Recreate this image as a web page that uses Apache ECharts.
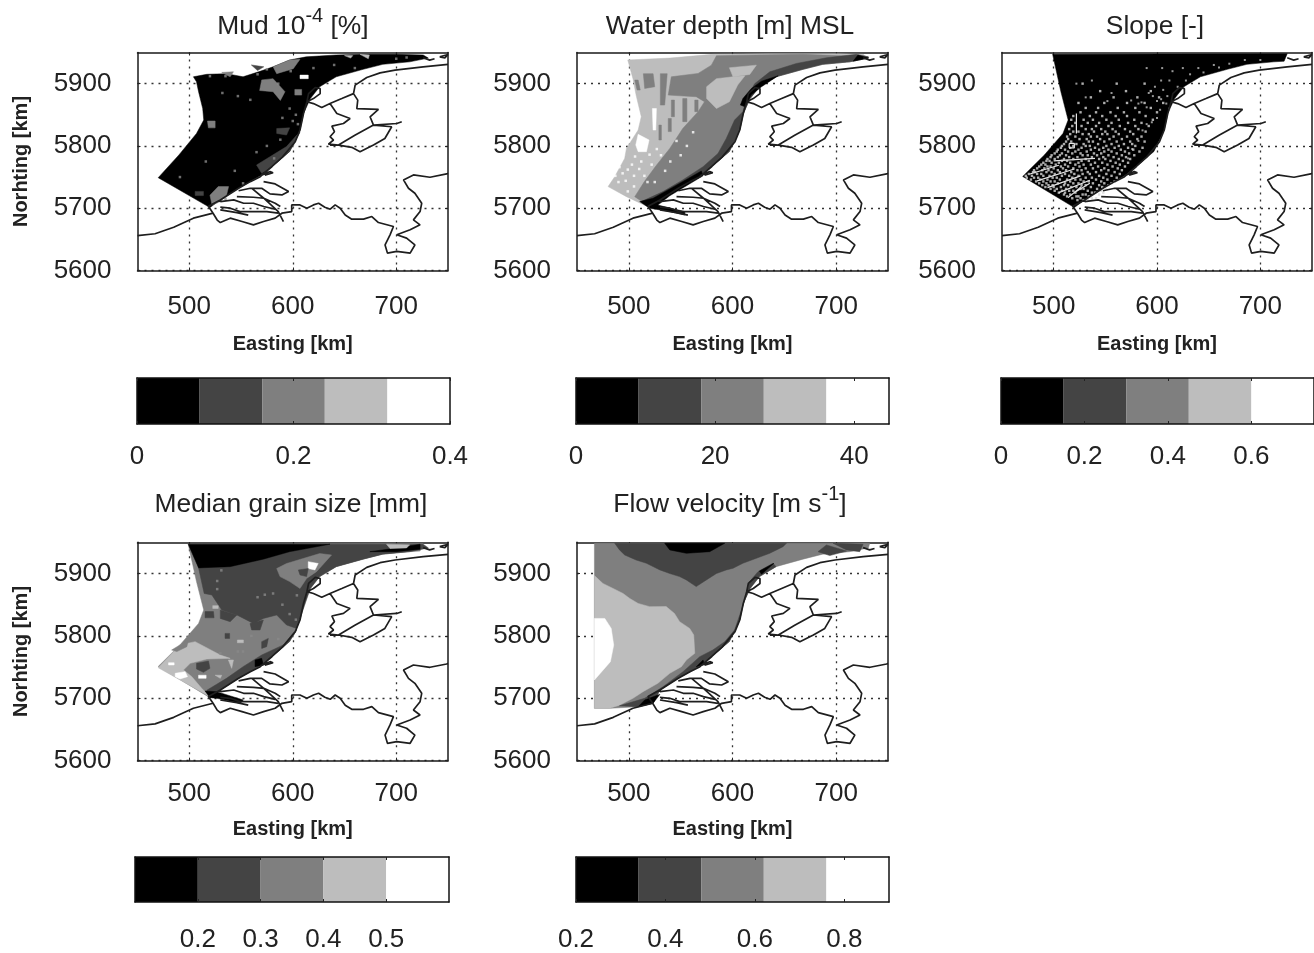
<!DOCTYPE html>
<html><head><meta charset="utf-8">
<style>html,body{margin:0;padding:0;background:#fff}#c{width:1314px;height:953px}</style>
<script src="https://cdn.jsdelivr.net/npm/echarts@6/dist/echarts.min.js"></script>
</head><body><div id="c"></div>
<script>
const greys=['#000000','#444444','#7f7f7f','#bdbdbd','#ffffff'];
const xTicks=[500,600,700];
const yTicks=[5600,5700,5800,5900];
const mudBins=[0,0.08,0.16,0.24,0.32,0.4], mudTicks=[0,0.2,0.4];
const depthBins=[0,9,18,27,36,45], depthTicks=[0,20,40];
const slopeBins=[0,0.15,0.3,0.45,0.6,0.75], slopeTicks=[0,0.2,0.4,0.6];
const grainBins=[0.1,0.2,0.3,0.4,0.5,0.6], grainTicks=[0.2,0.3,0.4,0.5];
const velBins=[0.2,0.34,0.48,0.62,0.76,0.9], velTicks=[0.2,0.4,0.6,0.8];

// shoreline, north-east to south-west (km)
const seaEdge=[[731,5941],[713,5935],[687,5931],[668,5923],[642,5911],[626,5895],[617,5876],[610.4,5852],[607,5825.5],[597,5791],[580,5767],[568.6,5752],[547.7,5732],[530,5713.3],[520,5701]];
const rev=a=>a.slice().reverse();

// outlines drawn on each map (km)
const borderLine=[[450,5656],[467,5659],[485,5669.5],[504,5684],[523,5692],[527,5681],[530,5677],[539.6,5684],[551,5678.6],[562,5673.3],[571.8,5678.6],[583,5684],[589.5,5692],[599,5694.6],[599,5705.3],[607,5705.3],[613.6,5700],[620,5705.3],[625,5708],[631,5701.6],[636.2,5698.4],[641,5705.3],[645.8,5700],[650.7,5689],[657,5682.4],[668.4,5682.4],[676.4,5686.6],[682.8,5677],[697.3,5670.6],[694,5657.3],[689.2,5641],[691.5,5627.9],[700.5,5630.6],[713.4,5627.9],[718,5641],[710,5652],[700.5,5657.3],[713.4,5665.3],[723,5673.3],[716.6,5681.3],[723,5694.6],[724.6,5708],[718,5724],[711.8,5732],[707,5745.4],[716.6,5753.4],[732.6,5749.7],[748.7,5755],[750,5756]];
const coastLine=[[523,5692],[518.5,5703],[530,5713.3],[547.7,5732],[559,5742.7],[568.6,5750.7],[580,5767],[590,5782],[602.4,5806.8],[607,5825.5],[610.4,5852],[613.7,5870.9],[615.3,5884],[621.7,5893.8],[626.5,5892],[626.5,5884],[620,5876],[613.7,5870.9],[620,5868],[628,5861.8],[636,5868],[647.4,5876],[658.7,5884],[660.3,5897.6],[671.5,5909.8],[684.4,5917.3],[698.8,5921.6],[726,5927],[750,5930.8]];
const lakeLine=[[636,5868],[642.6,5852],[655.4,5844],[649,5836],[637.8,5831.9],[640.3,5822.8],[636,5814.8],[639.4,5809.5],[634.5,5803],[644.2,5801.4],[657,5797.7],[665,5790.8],[678,5801.4],[689,5812],[695.6,5830.8],[678,5833.5],[674.7,5846.8],[682.8,5858.6],[661.9,5860],[662.8,5873.5],[658.7,5884]];
const polderLine=[[636,5801.4],[644.2,5801.4],[660,5817],[678,5833.5],[700.5,5836],[705.3,5838.8]];
const islandA=[[726,5941.5],[732.3,5937.8],[737,5940]];
const islandB=[[742,5943],[750,5946.8],[747,5941.5],[742,5943]];
const delta1=[[571.8,5742.7],[583,5739],[596,5726.7],[589.5,5721.3],[578,5723],[570,5732],[559,5732],[547.7,5728]];
const delta2=[[546,5718.7],[562,5717.6],[572,5716],[583,5708],[588,5702.7]];
const delta3=[[560.5,5732],[572,5716],[586,5694.6],[591,5678.6]];
const delta4=[[530,5710.7],[543,5713.3],[552.5,5708],[562,5708],[572,5702.7],[583,5698.4]];
const delta5=[[530,5701.6],[539.6,5700],[549,5694.6],[562,5694.6],[575,5694.6],[586,5692]];
const delta6=[[530,5697.3],[546,5693],[557,5689]];
const delta7=[[568.6,5752],[578,5758.7],[581,5757],[573,5753]];
const allLines=[borderLine,coastLine,lakeLine,polderLine,islandA,islandB,delta1,delta2,delta3,delta4,delta5,delta6,delta7];

// Mud
const mudOutline=[[470,5749],[490,5785.5],[507,5820],[514,5841.6],[513,5860],[509,5887],[507,5903],[504,5911],[517,5915],[536,5916],[552,5911],[567,5919],[581,5927],[597,5938],[613,5943],[642,5946],[668,5947],[700,5947],[726,5946]];
const mudZones=[
 [0,[...mudOutline,...seaEdge]],
 [1,[[565,5769.4],[594,5799],[604,5817.5],[607,5822],[597,5791],[580,5767],[570,5756]]],
 [2,[[581,5927],[597,5938],[607,5939],[600.5,5924],[584.5,5916]]],
 [2,[[570,5906],[581,5908],[592.5,5887],[588,5873],[581,5887],[568,5889]]],
 [2,[[520,5721],[528,5734.7],[538,5734.7],[536,5721],[530,5710.6],[522,5705]]],
 [2,[[517.6,5840],[525,5840],[525,5829],[518.5,5829]]],
 [4,[[607,5913.7],[615,5913.7],[615,5908],[607,5908]]],
 [2,[[602,5890.7],[608.6,5890.7],[608.6,5881.6],[602,5881.6]]],
 [2,[[531.4,5918],[542.7,5919],[539.5,5911]]],
 [1,[[505.7,5727],[513.7,5727],[513.7,5720.3],[505.7,5720.3]]],
 [1,[[584.5,5828],[597,5829],[594,5817.5],[584.5,5820]]],
 [3,[[665,5947],[674,5946],[673,5940]]],
 [3,[[650,5945],[658,5945],[656,5941]]],
 [1,[[560,5930],[572,5927],[566,5921]]]
];
const mudSpecks=[[586,5900],[559,5874],[547,5880],[532,5885],[597,5860],[603,5850],[590,5845],[588,5810],[575,5800],[565,5790],[582,5780],[516,5775],[491,5750],[544,5760],[552,5740],[535,5715],[600,5840],[605,5835],[598,5920],[620,5925],[640,5930],[660,5925],[700,5940],[710,5942],[535,5912],[520,5912],[566,5915],[575,5923]];

// Water depth
const depthZones=[
 [3,[[499,5938],[539.5,5941],[581,5947],[636,5948],[700,5948],[726,5947],...seaEdge,[497.7,5718.6],[480,5734.7],[486.4,5750.7],[496,5780],[497.7,5796],[509,5825.5],[512,5847],[507,5881.6],[504,5908]]],
 [2,[[731,5943],[668,5947],[623,5946],[584.5,5944.7],[579.6,5929.7],[566.8,5916.4],[541,5911],[538,5881.6],[565,5879],[573,5871],[566.8,5855],[552,5828],[539.5,5796],[526.6,5769],[515,5742.7],[505.7,5718.6],[520,5702.6],...rev(seaEdge)]],
 [3,[[575,5895],[584.5,5908],[600.5,5911],[612,5912.6],[605,5897.7],[597,5871],[584.5,5860],[575,5876]]],
 [3,[[597,5925.5],[623,5929.7],[616.6,5914.8],[600.5,5911]]],
 [2,[[514,5916],[523.4,5916],[525,5895],[515.3,5892.3]]],
 [2,[[530.4,5916],[537,5916],[534.6,5865.6],[530.4,5865.6]]],
 [2,[[505.7,5905.7],[509,5905.7],[511,5889.7],[508,5889.7]]],
 [2,[[541,5873.6],[544,5873.6],[544,5847],[541,5847]]],
 [2,[[552,5876],[556,5876],[556,5839],[552,5839]]],
 [2,[[563.6,5873.6],[566.8,5873.6],[566.8,5855],[563.6,5855]]],
 [2,[[538,5844],[541,5844],[541,5823],[538,5823]]],
 [2,[[529,5833.5],[531.4,5833.5],[531.4,5809.5],[529,5809.5]]],
 [4,[[522.7,5860],[526.6,5860],[526,5825.5],[523.4,5825.5]]],
 [4,[[509,5818.6],[519.5,5809.5],[517,5790.8],[509,5790.8],[506.7,5801.5]]],
 [1,[[731,5943],[719.5,5947],[690.6,5941.5],[661.6,5932.4],[636,5919],[621.4,5900],[613.4,5876],[610,5855],[602,5841.6],[594,5812],[586,5788],[571.6,5766.7],[552,5745.4],[533,5726.7],[512,5710.6],...rev(seaEdge)]],
 [0,[[731,5941],[721,5945.8],[716.3,5936]]],
 [0,[[644,5912.6],[628,5904],[618,5892],[610,5876],[607.6,5865.6],[612,5863],[618,5881.6],[628,5895]]],
 [0,[[510.5,5710.6],[523.4,5716],[539.5,5731],[570,5759.8],[571.6,5752],[539.5,5720],[528,5705],[554,5694.6],[554,5689],[536,5695.7],[520,5700]]]
];
const depthSpecks=[[476,5755],[480,5748],[484,5760],[487,5752],[491,5766],[494,5756],[497,5744],[499,5762],[490,5742],[503,5770],[506,5783],[505,5752],[510,5763],[512,5775],[515,5752],[520,5786],[522,5770],[527,5795],[531,5785],[535,5760],[540,5775],[546,5808],[550,5785],[556,5800],[562,5822],[518,5742],[525,5742],[505,5735],[499,5727],[480,5762],[474,5750],[470,5757]];

// Slope
const slopeOutline=[[470,5751],[491,5785.5],[509,5820],[514,5841.6],[507,5887],[499,5947],[726,5948],[723,5936]];
const slopeZones=[[0,[...slopeOutline,...seaEdge.slice(1)]]];
const slopeSpecks=[[537,5905],[522,5900],[531,5878],[552,5872],[556,5885],[575,5873],[582,5868],[590,5862],[596,5880],[600,5872],[603,5858],[606,5890],[609,5868],[600,5845],[595,5838],[590,5925],[605,5925],[615,5920],[625,5925],[640,5925],[655,5930],[670,5932],[685,5938],[700,5938],[612,5905],[620,5895],[632,5915],[572,5780],[576,5795],[582,5808],[586,5825],[590,5835],[604,5905],[610,5880],[612,5860],[604,5875],[598,5895],[592,5885],[585,5870],[660,5926],[645,5918],[628,5905]];
const slopeRows=[
 [5713,523,529,533],[5716,518,526,537,541],[5719,513,522,524,534],[5722,510,516,528,531,544],
 [5725,505,511,521,537,540,548],[5728,501,508,515,519,533,546],[5731,497,503,512,526,529,542,551],
 [5734,492,500,507,517,522,536,547],[5737,489,495,499,510,514,527,531,544,553],[5740,486,493,504,511,519,524,538,549,556],
 [5743,483,490,497,501,516,529,534,546,559],[5746,478,487,494,506,513,521,526,541,552],[5749,474,481,485,499,503,518,531,537,548,561],
 [5752,473,479,490,496,508,515,524,544,556],[5755,476,484,488,501,511,520,528,535,551,564],[5758,480,482,493,498,506,517,533,541,559],
 [5761,481,489,495,504,512,523,527,546,553,566],[5764,484,491,500,509,519,531,538,549,562],[5767,486,494,497,507,514,525,543,557,569],
 [5770,488,492,502,511,521,529,536,552,564],[5773,490,498,505,516,524,540,547,560,572],[5776,493,496,508,513,527,534,555,567],
 [5779,494,501,510,519,531,544,550,563,574],[5782,497,504,515,523,537,548,558,570],[5785,498,506,512,528,533,542,553,566,578],
 [5788,501,508,518,526,539,546,561,573],[5791,503,514,521,532,549,556,569,583],[5794,504,511,524,536,544,553,565,577],
 [5797,507,516,527,540,548,559,572,586],[5800,508,519,531,535,551,563,579],[5803,510,522,529,543,556,568,576],
 [5807,512,517,534,538,549,561,574,588],[5811,514,525,532,545,554,566,581],[5815,513,521,536,542,558,571,585],
 [5819,516,528,534,547,552,563,577],[5823,519,524,539,550,560,574,589],[5827,515,531,537,546,557,569,582],
 [5832,518,527,541,553,564,579,592],[5837,521,533,544,556,572,585],[5842,517,529,538,551,563,578,596],
 [5848,519,535,547,560,571,589],[5854,526,541,555,568,583,600],[5861,531,543,562,579,594],[5869,524,549,571,588,606],
 [5878,536,558,581,602],[5888,545,570,594],[5900,528,561,588]
];
const slopeStreaks=[[522,5852],[522,5820],null,[515,5804],[520,5804],[520,5797],[515,5797],[515,5804],null,[477,5755],[505,5769],null,[484,5744],[520,5763],null,[494,5733],[526,5752],null,[505,5725],[535,5745],null,[514,5717],[527,5735],null,[519,5724],[535,5740],null,[500,5776],[540,5780]];

// Median grain size
const grainZones=[
 [2,[...slopeOutline,...seaEdge.slice(1)]],
 [1,[[509,5909],[539.5,5911],[571.6,5923],[597,5935],[636,5947],[726,5947],...seaEdge.slice(0,7),[603.8,5812],[594,5817.5],[584.5,5833.5],[571.6,5828],[562,5820],[546,5833.5],[531.4,5841.6],[521.8,5865.6],[514.4,5868]]],
 [0,[[499,5947],[509,5909],[539.5,5911],[571.6,5923],[597,5935],[636,5947]]],
 [0,[[674.5,5935],[697,5940],[723,5947],[723,5939],[700,5935]]],
 [2,[[584.5,5908],[594,5916],[610,5924],[626,5932],[637.5,5929.7],[623,5903],[613.4,5892],[607,5876],[597,5887],[587.7,5895]]],
 [3,[[690.6,5947],[713,5946],[710,5941],[694,5940]]],
 [4,[[615,5919],[624.6,5916],[621.4,5905.7],[615,5908]]],
 [1,[[605.4,5905.7],[615,5908],[613.4,5895],[607,5897.7]]],
 [3,[[470,5749],[491,5785.5],[505.7,5790.8],[530,5769.4],[539.5,5764],[517,5763],[500.9,5756],[494.4,5745.4],[502.5,5734.7],[512,5716],[520,5702.6]]],
 [2,[[483,5777.4],[491,5785.5],[499,5793.5],[497.7,5782.8],[488,5774.8]]],
 [1,[[507,5756],[518.6,5759.8],[520,5748],[513.7,5741.6],[507,5747]]],
 [4,[[486.4,5740],[496,5742.7],[498.3,5734.7],[491,5731],[486.4,5734.7]]],
 [4,[[480,5757],[485.4,5757],[485.4,5753.4],[480,5753.4]]],
 [4,[[509,5737],[516.3,5737],[516.3,5732],[509,5732]]],
 [1,[[515.3,5839],[523.4,5839],[524,5829],[515.3,5829]]],
 [1,[[530,5841.6],[546,5833.5],[539.5,5822.8],[530,5828]]],
 [1,[[558.7,5820],[571.6,5825.5],[568.4,5809.5],[560.3,5809.5]]],
 [1,[[534.6,5804],[539,5804],[539,5796],[534.6,5796]]],
 [1,[[570,5790.8],[576.4,5796],[574.8,5782.8],[570,5780]]],
 [3,[[546.5,5793.5],[552.3,5793.5],[552.3,5789],[546.5,5789]]],
 [3,[[522.7,5848.5],[528,5848.5],[528,5844],[522.7,5844]]],
 [3,[[537.8,5761.4],[542.7,5761.4],[541,5748]]],
 [3,[[525,5737],[531.4,5737],[530,5732]]],
 [1,[[517,5713],[536,5732],[552,5750.7],[570,5769.4],[594,5788],[603.8,5809.5],[597,5791],[580,5767],[568.6,5752],[547.7,5732],[530,5713.3],[520,5701]]],
 [0,[[563.6,5761.4],[570,5764],[571.6,5753.4],[563.6,5750.7]]],
 [0,[[515.3,5711.7],[526.6,5710.6],[552.3,5697.3],[549,5692],[526.6,5700],[520,5701]]]
];
const grainSpecks=[[581,5868],[566,5862],[573,5866],[590,5850],[603,5826],[597,5835],[604,5865],[531,5905],[527,5888],[527,5875],[586,5795],[560,5800],[552,5775],[530,5772],[547,5775]];

// Flow velocity
const velZones=[
 [2,[[466.8,5948.4],[732.4,5948.4],...seaEdge.slice(0,14),[523.4,5692],[509,5686.6],[481.6,5683.9],[466.8,5683.9]]],
 [3,[[466.8,5896.6],[475,5884],[484.8,5876],[494.4,5868],[500.9,5860],[509,5852],[520,5846.9],[536,5847],[544,5836],[549,5822.8],[558.7,5812],[562.6,5801.5],[563.6,5772],[555.5,5761.4],[550.7,5750.7],[539.5,5740],[528,5724],[513.7,5710.6],[504,5700],[491,5689],[481.6,5683.9],[466.8,5683.9]]],
 [4,[[466.8,5828],[476.8,5828],[483,5812],[485.4,5785.4],[482.2,5758.7],[466.8,5729.3]]],
 [1,[[486.4,5948.4],[491,5937.8],[496,5929.7],[507,5921.7],[517,5916.4],[530,5905.7],[539.5,5900],[549,5895],[555.5,5889.7],[565,5879],[574.8,5889.7],[584.5,5900],[594,5905.7],[600.5,5908.4],[610,5916.4],[623,5924.4],[636,5932.4],[648.8,5943],[652,5948.4]]],
 [1,[[682.5,5935],[690.6,5945.8],[710,5936],[693.8,5928.7]]],
 [1,[[697,5948.4],[726,5946.8],[722.7,5935],[710,5937.8]]],
 [0,[[534.6,5948.4],[539.5,5937.8],[555.5,5932.4],[578,5935],[592.5,5948.4]]],
 [1,[[639,5916.4],[624.6,5903],[616.6,5887],[613.4,5865.6],[607,5833.5],[602,5809.5],[592.5,5790.8],[581,5777.4],[568.4,5766.7],[552.3,5742.7],[533,5718.6],[515.3,5700],[491,5688],[509,5686.6],[523.4,5692],[530,5713.3],[547.7,5732],[568.6,5752],[580,5767],[597,5791],[607,5825.5],[610.4,5852],[617,5876],[626,5895],[642,5911]]],
 [0,[[515.3,5697.3],[530,5706.4],[523.4,5692],[509,5686.6]]],
 [0,[[565,5750.7],[571.6,5761.4],[573,5754.5]]],
 [0,[[640,5916.4],[626,5904],[628,5898.8]]]
];

const titles=[
 ['{t|Mud 10}{s|-4}{t| [%]}',288,1],
 ['{t|Water depth [m] MSL}',725,1],
 ['{t|Slope [-]}',1150,1],
 ['{t|Median grain size [mm]}',286,479],
 ['{t|Flow velocity [m s}{s|-1}{t|]}',725,479]
];
const panels=[
 {zones:mudZones,specks:mudSpecks,bins:mudBins,ticks:mudTicks,l:137.5,r:448,t:52.5,b:270.5,cl:137,cr:450,ct:378,cb:424,lm:23,nm:64,cm:20,yn:true},
 {zones:depthZones,specks:depthSpecks,bins:depthBins,ticks:depthTicks,l:577,r:888,t:52.5,b:270.5,cl:576,cr:889,ct:378,cb:424,lm:23,nm:64,cm:20},
 {zones:slopeZones,specks:slopeSpecks,streaks:slopeStreaks,rows:slopeRows,bins:slopeBins,ticks:slopeTicks,l:1002,r:1312,t:52.5,b:270.5,cl:1001,cr:1314,ct:378,cb:424,lm:23,nm:64,cm:20},
 {zones:grainZones,specks:grainSpecks,bins:grainBins,ticks:grainTicks,l:137.5,r:448,t:542.3,b:760.7,cl:135,cr:449,ct:857,cb:903,lm:20,nm:59,cm:25,yn:true},
 {zones:velZones,specks:[],bins:velBins,ticks:velTicks,l:577,r:888,t:542.3,b:760.7,cl:576,cr:889,ct:857,cb:903,lm:20,nm:59,cm:25}
];

const FONT='"Liberation Sans",Arial,sans-serif', INK='#222222';
const plain=v=>String(v);
const grid=[],xAxis=[],yAxis=[],series=[];
function addGrid(l,r,t,b){grid.push({left:l,top:t,width:r-l,height:b-t,containLabel:false});return grid.length-1;}
const joined=[];
allLines.forEach((a,i)=>{if(i)joined.push(['-','-']);joined.push(...a);});
const line={onZero:false,lineStyle:{color:'#1a1a1a',width:1.5}};

panels.forEach(p=>{
 const g=addGrid(p.l,p.r,p.t,p.b);
 const xi=xAxis.length, yi=yAxis.length;
 xAxis.push({gridIndex:g,type:'value',min:450,max:750,position:'bottom',
  name:'Easting [km]',nameLocation:'middle',nameGap:p.nm,nameTextStyle:{fontFamily:FONT,fontSize:20,fontWeight:'bold',color:INK},
  axisLine:line,axisTick:{show:true,inside:true,length:3,lineStyle:{color:INK},customValues:xTicks},
  axisLabel:{customValues:xTicks,margin:p.lm,formatter:plain,fontFamily:FONT,fontSize:26,color:INK},
  splitLine:{show:true,lineStyle:{type:[2,5],color:'#333',width:1.3}}});
 xAxis.push({gridIndex:g,type:'value',min:450,max:750,position:'top',axisLine:line,
  axisTick:{show:true,inside:true,length:3,lineStyle:{color:INK},customValues:xTicks},axisLabel:{show:false},splitLine:{show:false}});
 yAxis.push({gridIndex:g,type:'value',min:5600,max:5950,position:'left',
  name:p.yn?'Norhting [km]':'',nameLocation:'middle',nameGap:106,nameTextStyle:{fontFamily:FONT,fontSize:20,fontWeight:'bold',color:INK},
  axisLine:line,axisTick:{show:true,inside:true,length:3,lineStyle:{color:INK},customValues:yTicks},
  axisLabel:{customValues:yTicks,margin:26,formatter:plain,fontFamily:FONT,fontSize:26,color:INK},
  splitLine:{show:true,lineStyle:{type:[2,5],color:'#333',width:1.3}}});
 yAxis.push({gridIndex:g,type:'value',min:5600,max:5950,position:'right',axisLine:line,
  axisTick:{show:true,inside:true,length:3,lineStyle:{color:INK},customValues:yTicks},axisLabel:{show:false},splitLine:{show:false}});
 const zones=p.zones;
 series.push({type:'custom',xAxisIndex:xi,yAxisIndex:yi,coordinateSystem:'cartesian2d',silent:true,z:2,clip:true,
  data:zones.map((z,i)=>[i]),
  renderItem:(params,api)=>{const z=zones[params.dataIndex];
   return {type:'polygon',shape:{points:z[1].map(q=>api.coord(q))},style:{fill:greys[z[0]],stroke:greys[z[0]],lineWidth:0.5}};}});
 if(p.specks.length){
  series.push({type:'scatter',xAxisIndex:xi,yAxisIndex:yi,silent:true,z:3,symbol:'rect',symbolSize:p.streaks?2:2.5,
   itemStyle:{color:p.streaks?'#bdbdbd':(p.zones===depthZones?'#ffffff':'#8a8a8a')},data:p.specks});
 }
 if(p.rows){
  series.push({type:'scatter',xAxisIndex:xi,yAxisIndex:yi,silent:true,z:3,symbol:'rect',symbolSize:2.4,
   itemStyle:{color:'#d8d8d8'},data:p.rows.flatMap(r=>r.slice(1).map(e=>[e,r[0]]))});
 }
 if(p.streaks){
  series.push({type:'line',xAxisIndex:xi,yAxisIndex:yi,silent:true,z:3,symbol:'none',connectNulls:false,
   lineStyle:{color:'#e8e8e8',width:1.2},data:p.streaks.map(q=>q||['-','-'])});
 }
 series.push({type:'line',xAxisIndex:xi,yAxisIndex:yi,silent:true,z:4,symbol:'none',connectNulls:false,
  lineStyle:{color:'#1e1e1e',width:1.7},data:joined});

 // colour bar
 const cg=addGrid(p.cl,p.cr,p.ct,p.cb);
 const cxi=xAxis.length, cyi=yAxis.length;
 const mn=p.bins[0], mx=p.bins[p.bins.length-1];
 const cbAxis={onZero:false,lineStyle:{color:'#111',width:1.5}};
 xAxis.push({gridIndex:cg,type:'value',min:mn,max:mx,position:'bottom',z:5,
  axisLine:cbAxis,axisTick:{show:true,inside:true,length:3,lineStyle:{color:INK},customValues:p.ticks},
  axisLabel:{customValues:p.ticks,margin:p.cm,fontFamily:FONT,fontSize:26,color:INK,showMinLabel:true,showMaxLabel:true,hideOverlap:false},
  splitLine:{show:false}});
 xAxis.push({gridIndex:cg,type:'value',min:mn,max:mx,position:'top',z:5,
  axisLine:cbAxis,axisTick:{show:true,inside:true,length:3,lineStyle:{color:INK},customValues:p.ticks},
  axisLabel:{show:false},splitLine:{show:false}});
 yAxis.push({gridIndex:cg,type:'value',min:0,max:1,position:'left',z:5,axisLine:cbAxis,axisTick:{show:false},axisLabel:{show:false},splitLine:{show:false}});
 yAxis.push({gridIndex:cg,type:'value',min:0,max:1,position:'right',z:5,axisLine:cbAxis,axisTick:{show:false},axisLabel:{show:false},splitLine:{show:false}});
 const bins=p.bins;
 series.push({type:'custom',xAxisIndex:cxi,yAxisIndex:cyi,coordinateSystem:'cartesian2d',silent:true,z:2,
  data:greys.map((c,i)=>[bins[i],bins[i+1]]),
  encode:{x:[0,1]},
  renderItem:(params,api)=>{const a=api.coord([api.value(0),1]),b=api.coord([api.value(1),0]);
   return {type:'rect',shape:{x:a[0],y:a[1],width:b[0]-a[0],height:b[1]-a[1]},style:{fill:greys[params.dataIndex]}};}});
});

const title=titles.map(t=>({text:t[0],left:t[1],top:t[2],textAlign:'center',
 textStyle:{rich:{t:{fontFamily:FONT,fontSize:26.4,fontWeight:'normal',color:INK,lineHeight:34,verticalAlign:'bottom'},
                  s:{fontFamily:FONT,fontSize:20,fontWeight:'normal',color:INK,lineHeight:34,verticalAlign:'top'}}}}));

const chart=echarts.init(document.getElementById('c'),null,{renderer:'canvas'});
chart.setOption({animation:false,backgroundColor:'#ffffff',title,grid,xAxis,yAxis,series});
</script></body></html>
